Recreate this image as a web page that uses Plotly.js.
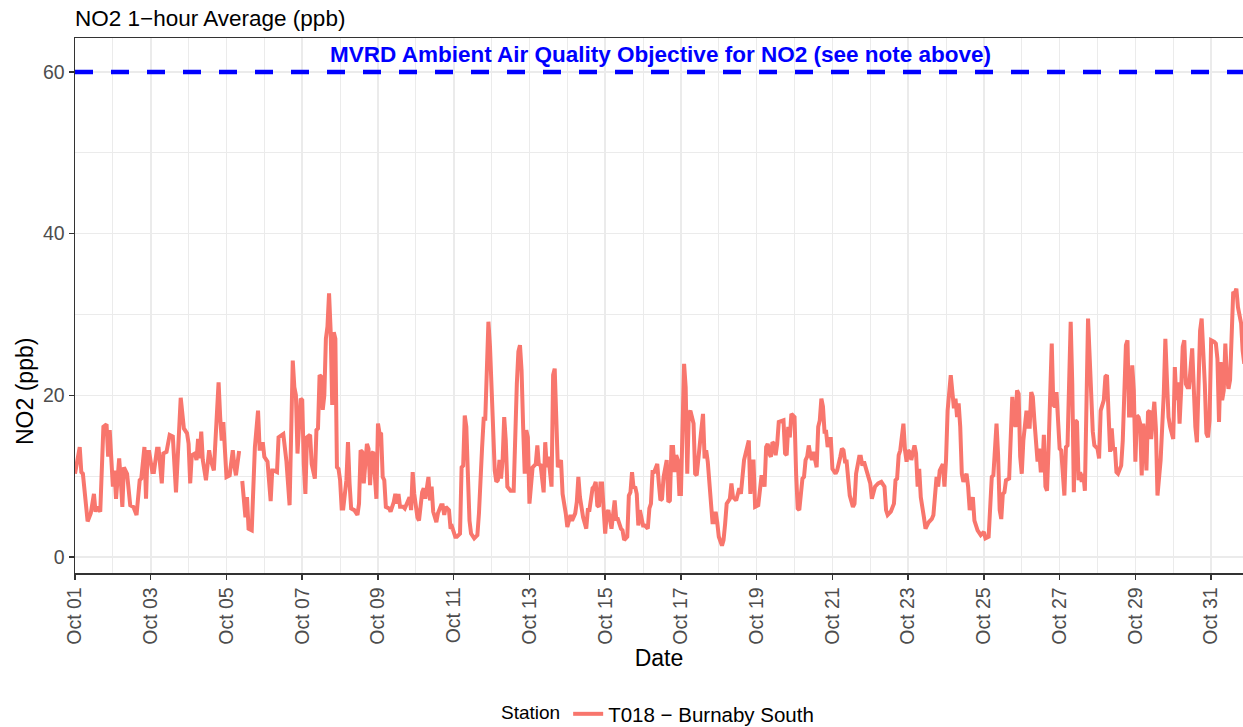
<!DOCTYPE html>
<html>
<head>
<meta charset="utf-8">
<script src="https://cdn.plot.ly/plotly-3.0.1.min.js"></script>
<style>html,body{margin:0;padding:0;background:#fff;}</style>
</head>
<body>
<div id="chart" style="width:1243px;height:727px;"></div>
<script>
// Hours since 2023-10-01 00:00 and NO2 values (ppb)
const startUTC = Date.UTC(2023, 9, 1, 0, 0, 0);
const hourOffsets = [0,3,4,5,8,10,12,13,14,16,18,20,21,22,24,25,26,28,29,30,31,33,35,37,39,41,42,44,45,46,47,49,50,52,53,55,56,58,60,62,64,67,69,71,72,73,74,76,77,78,79,80,81,83,85,86,88,89,91,92,93,94,95,96,98,100,101,102,104,105,106,107,108,109,110,112,113,114,116,117,118,119,120,122,124,125,126,128,129,132,134,136,138,139,140,141,143,144,145,146,147,149,150,152,153,154,155,156,157,158,159,160,161,162,163,164,165,166,167,168,169,170,172,173,174,175,177,179,180,181,182,183,185,186,187,188,189,190,191,192,193,194,195,196,197,199,200,202,203,204,205,206,208,209,211,212,213,214,215,217,218,220,221,222,224,225,226,227,229,230,232,233,234,235,237,238,239,241,242,244,245,246,247,248,249,250,251,253,255,256,258,259,260,261,262,263,264,265,266,267,268,269,270,271,272,273,274,276,278,280,281,282,283,284,285,286,287,288,289,290,292,293,294,295,297,298,299,300,302,303,304,305,306,308,309,311,312,314,315,317,318,319,320,322,324,325,326,328,329,330,331,332,333,334,335,336,337,338,340,341,342,343,344,346,347,348,350,351,352,353,354,355,356,357,358,360,361,363,364,365,366,367,369,370,371,372,373,375,376,377,378,379,380,381,382,383,384,386,387,388,389,390,392,393,394,396,397,398,399,400,401,402,403,404,405,406,407,408,410,411,412,413,415,416,417,418,419,421,422,423,424,426,427,428,429,430,431,433,435,436,437,438,439,440,441,442,443,444,445,446,448,449,450,451,452,453,454,455,456,457,458,459,461,462,463,464,465,466,467,468,469,470,471,472,473,474,475,476,477,478,479,480,482,483,485,486,487,488,489,490,491,493,494,495,497,498,499,500,502,504,505,506,507,509,511,513,514,515,517,519,520,521,522,523,525,526,527,528,529,530,532,533,534,535,536,538,539,541,543,544,545,546,547,548,550,551,552,553,555,556,557,558,559,560,561,562,563,565,566,567,569,570,572,574,576,577,579,580,581,582,583,584,585,586,587,588,589,590,592,593,594,595,596,597,598,599,600,601,603,604,605,606,607,608,609,610,611,612,613,614,615,616,617,619,620,621,622,623,624,625,626,627,628,629,631,632,633,634,635,636,637,638,639,640,642,643,644,645,646,648,649,650,652,653,654,655,656,657,658,659,660,661,663,664,666,667,668,669,670,671,672,673,674,675,676,677,678,679,680,681,682,684,685,686,687,688,690,691,692,693,694,696,697,698,699,700,701,702,703,704,705,706,708,709,710,711,712,713,714,715,716,717,718,719,720,722,723,724,725,726,727,728,729,730,731,732,733,734,735,736,737,738,739,740,741];
const no2 = [10.3,13.6,10.5,10.3,4.4,5.4,7.8,5.6,6.2,5.6,16.1,16.4,12.4,15.7,8.7,10.7,7.2,12.2,9.5,6.2,11.1,10.3,6.4,6.2,5.2,9.5,9.7,13.6,7.2,13.0,13.0,10.5,10.5,13.4,13.4,9.1,12.8,13.0,15.1,14.9,8.0,19.7,15.9,15.3,14.0,9.1,12.6,12.8,12.0,14.6,12.2,15.5,12.0,9.5,13.2,12.0,10.7,14.8,21.6,17.3,14.4,16.7,13.6,9.9,10.1,13.2,11.3,10.1,13.1,null,9.4,7.0,4.9,7.4,3.5,3.3,9.1,13.6,18.1,13.4,13.4,14.2,12.4,11.8,6.9,10.7,10.7,10.5,14.8,15.2,11.8,6.4,24.3,21.0,20.0,12.8,19.6,19.4,11.5,7.8,14.8,15.1,11.5,9.7,15.7,15.9,22.5,22.3,18.2,20.0,27.0,28.5,32.6,28.0,18.8,27.8,27.0,11.1,10.9,9.5,6.0,6.0,9.5,14.2,9.1,6.0,5.8,5.2,6.6,13.2,13.0,9.1,14.0,13.4,8.9,12.8,13.0,9.5,7.2,16.5,15.3,15.2,9.9,9.5,6.2,6.0,5.6,6.8,7.8,6.6,7.8,6.2,6.2,6.0,7.0,7.4,5.8,10.5,7.8,4.9,4.5,8.0,8.5,7.2,9.9,7.0,8.7,5.6,4.3,5.4,6.4,6.4,5.2,6.2,5.8,3.5,3.7,2.5,2.5,2.9,11.1,11.3,17.5,16.1,10.1,4.5,2.9,2.3,2.7,5.4,13.6,17.1,17.1,25.2,29.1,26.0,19.8,14.4,10.7,9.3,9.5,12.0,9.7,12.0,17.3,14.4,8.7,8.2,8.2,21.4,25.4,26.2,23.1,16.1,10.3,15.7,14.8,6.6,9.5,11.1,11.5,13.8,11.3,11.5,8.0,14.2,11.1,12.4,8.7,22.5,23.3,16.1,11.1,12.0,7.8,5.4,3.7,5.2,4.5,5.4,6.8,9.9,7.4,4.9,3.5,5.8,5.8,8.5,8.7,9.3,6.4,6.2,9.1,9.1,5.4,2.9,5.4,5.8,3.5,5.8,7.0,4.7,4.7,3.5,3.3,2.1,2.5,7.6,8.0,10.5,8.5,8.7,7.8,3.9,5.8,3.9,3.9,3.5,6.0,6.6,10.5,10.5,11.5,9.1,7.0,7.2,9.9,12.0,6.8,7.0,13.6,13.6,10.5,12.6,12.0,7.8,7.8,23.9,21.0,10.3,17.7,18.1,16.5,10.3,10.1,14.0,16.5,17.7,12.2,13.2,11.8,8.7,6.2,4.3,4.3,5.6,4.3,2.5,1.4,2.1,4.1,6.6,7.2,9.1,7.4,7.2,7.0,8.5,7.8,9.9,12.0,13.6,14.4,7.8,11.8,11.8,6.2,6.4,9.9,9.9,8.7,13.6,14.0,12.8,12.4,14.2,14.0,12.6,14.0,16.7,16.9,16.9,12.8,12.6,16.1,14.8,17.7,17.5,17.3,10.3,6.0,5.8,9.7,9.9,12.0,12.4,13.8,12.6,12.0,13.0,12.2,11.1,16.1,16.9,19.6,18.6,15.5,15.5,13.6,14.6,14.6,10.9,10.3,10.7,12.4,13.4,13.2,11.8,11.8,9.9,7.6,6.2,6.6,10.3,12.4,12.4,11.3,11.8,10.5,9.1,7.2,7.8,8.7,9.1,9.3,8.7,5.8,5.2,5.6,6.6,9.5,9.7,12.6,13.2,16.5,13.2,11.8,13.2,13.0,12.0,13.8,12.8,8.7,10.9,7.4,4.9,3.5,4.3,4.7,5.2,8.2,9.9,8.7,10.7,11.5,8.7,12.0,18.1,22.5,20.6,18.4,19.6,17.3,19.0,16.1,10.3,9.3,10.3,8.7,5.8,7.4,4.5,3.3,2.7,3.1,2.3,2.5,6.2,9.9,10.1,13.6,16.5,12.6,5.8,4.7,7.8,8.0,9.5,9.7,13.6,19.8,16.9,16.1,20.6,20.2,12.4,10.3,14.4,18.1,16.1,16.1,20.4,19.8,16.9,13.4,11.8,13.4,10.7,10.7,15.1,8.7,8.2,13.6,26.4,18.8,18.6,20.4,17.7,13.4,13.2,10.3,7.6,13.6,13.8,29.1,21.4,8.0,16.9,16.7,9.5,10.5,9.3,10.3,8.2,29.5,24.9,18.6,15.5,13.8,13.4,12.2,18.1,19.4,22.3,22.5,17.7,13.0,15.9,13.2,13.6,10.5,10.3,11.3,14.4,26.2,26.8,17.5,17.5,23.7,20.6,11.8,17.5,17.3,16.5,10.1,16.5,14.8,10.7,17.9,18.1,14.6,19.2,15.9,7.6,9.5,12.0,20.2,27.0,21.9,17.3,16.1,14.6,23.5,19.4,21.6,16.5,20.6,26.0,26.8,21.4,21.0,21.0,25.8,20.6,16.1,14.2,21.0,28.0,29.5,26.4,21.4,15.3,14.8,16.9,26.8,26.6,26.4,24.5,16.7,24.1,19.4,20.6,26.4,22.3,20.8,21.9,27.2,32.8,32.6,33.2,30.9,29.5,28.9,25.5,23.9];
const stationName = 'T018 \u2212 Burnaby South';
const objectiveValue = 60;
const objectiveLabel = 'MVRD Ambient Air Quality Objective for NO2 (see note above)';
const objectiveLabelY = 62.1;
const objectiveLabelX = '2023-10-16 11:00';
const xStart = '2023-10-01 00:00';
const xEnd = '2023-10-31 20:12';

function toDate(h) {
  return new Date(startUTC + h * 3600000).toISOString().slice(0, 19).replace('T', ' ');
}
const times = hourOffsets.map(toDate);

const FONT = 'Liberation Sans, Arial, Helvetica, sans-serif';
const PLOT_TOP = 38, PLOT_BOTTOM = 573, PLOT_LEFT = 75, W = 1243, H = 727;
const PLOT_H = PLOT_BOTTOM - PLOT_TOP, PLOT_W = W - PLOT_LEFT;

const traces = [
  {
    x: [xStart, '2023-11-01 00:00'],
    y: [objectiveValue, objectiveValue],
    type: 'scatter', mode: 'lines',
    line: {color: '#0000FF', width: 4.5, dash: '18px,18px'},
    showlegend: false, hoverinfo: 'skip'
  },
  {
    x: times, y: no2,
    type: 'scatter', mode: 'lines',
    name: stationName,
    line: {color: '#F8766D', width: 4},
    connectgaps: false,
    showlegend: true
  }
];

const layout = {
  width: W, height: H,
  margin: {l: PLOT_LEFT, r: 0, t: PLOT_TOP, b: H - PLOT_BOTTOM, pad: 0},
  paper_bgcolor: '#FFFFFF', plot_bgcolor: '#FFFFFF',
  font: {family: FONT, color: '#000'},
  showlegend: true,
  title: {
    text: 'NO2 1\u2212hour Average (ppb)',
    font: {family: FONT, size: 22.5, color: '#000'},
    xref: 'container', x: PLOT_LEFT / W, xanchor: 'left',
    yref: 'container', y: 1 - 18 / H, yanchor: 'middle'
  },
  xaxis: {
    type: 'date',
    range: [xStart, xEnd],
    tick0: '2023-10-01', dtick: 172800000,
    tickformat: '%b %d', tickangle: -90,
    ticks: 'outside', ticklen: 5, tickwidth: 1.5, tickcolor: '#333333',
    tickfont: {family: FONT, size: 19.5, color: '#4D4D4D'},
    showgrid: true, gridcolor: '#EBEBEB', gridwidth: 1.6,
    minor: {dtick: 86400000, showgrid: true, gridcolor: '#EBEBEB', gridwidth: 1},
    showline: true, linecolor: '#333333', linewidth: 1.5, mirror: true,
    zeroline: false, automargin: false,
    title: {text: 'Date', font: {family: FONT, size: 23, color: '#000'}, standoff: 6}
  },
  yaxis: {
    range: [-1.98, 64.2],
    tick0: 0, dtick: 20,
    ticks: 'outside', ticklen: 5, tickwidth: 1.5, tickcolor: '#333333',
    tickfont: {family: FONT, size: 19.5, color: '#4D4D4D'},
    showgrid: true, gridcolor: '#EBEBEB', gridwidth: 1.6,
    minor: {dtick: 10, showgrid: true, gridcolor: '#EBEBEB', gridwidth: 1},
    showline: true, linecolor: '#333333', linewidth: 1.5, mirror: false,
    zeroline: false, automargin: false
  },
  legend: {
    orientation: 'h',
    x: 0.5, xanchor: 'center', xref: 'paper',
    yref: 'container', y: 1 - 714 / H, yanchor: 'middle',
    title: {text: 'Station', side: 'left', font: {family: FONT, size: 19, color: '#000'}},
    font: {family: FONT, size: 20.5, color: '#000'},
    itemwidth: 30, bgcolor: 'rgba(0,0,0,0)'
  },
  annotations: [
    {
      x: objectiveLabelX, y: objectiveLabelY, xref: 'x', yref: 'y',
      text: '<b>' + objectiveLabel + '</b>',
      showarrow: false, xanchor: 'center', yanchor: 'middle',
      font: {family: FONT, size: 22.5, color: '#0000FF'}
    },
    {
      xref: 'paper', yref: 'paper',
      x: (25 - PLOT_LEFT) / PLOT_W, y: (PLOT_BOTTOM - 392) / PLOT_H,
      text: 'NO2 (ppb)', textangle: -90,
      showarrow: false, xanchor: 'center', yanchor: 'middle',
      font: {family: FONT, size: 23, color: '#000'}
    }
  ]
};

Plotly.newPlot('chart', traces, layout, {displayModeBar: false, staticPlot: true});
</script>
</body>
</html>
